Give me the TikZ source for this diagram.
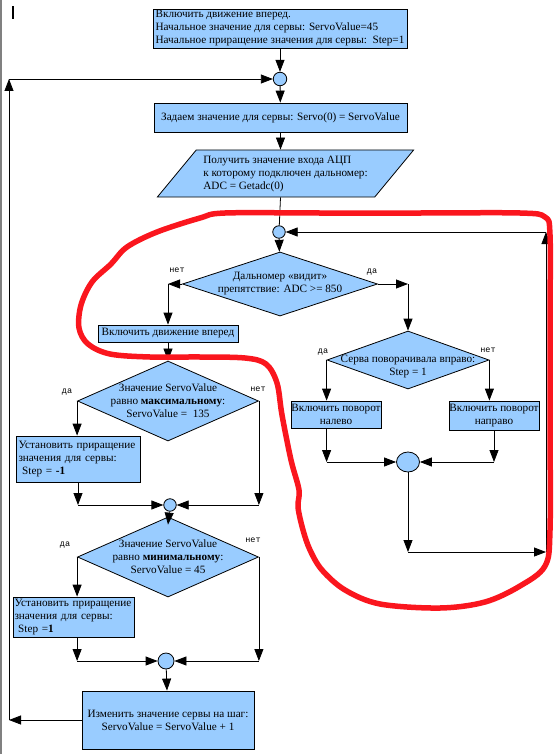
\documentclass[tikz,border=0pt]{standalone}
\usepackage{fontspec}
\setmainfont{Liberation Serif}
\newfontfamily\lblfont{Liberation Mono}
\usetikzlibrary{shapes.geometric,arrows.meta}

\definecolor{boxblue}{RGB}{153,204,255}
\definecolor{markred}{RGB}{250,22,30}

\tikzset{
  box/.style={draw, fill=boxblue, inner sep=3pt, align=center, font=\fontsize{11.2}{13}\selectfont},
  decision/.style={diamond, draw, fill=boxblue, inner sep=0pt},
  joint/.style={circle, draw, fill=boxblue, inner sep=0pt},
  txt/.style={align=center, inner sep=0pt, font=\fontsize{11.2}{13}\selectfont},
  lbl/.style={inner sep=0pt, font=\lblfont\fontsize{8.5}{9}\selectfont},
  arr/.style={-{Triangle[length=12pt,width=9pt]}},
}

\begin{document}
\begin{tikzpicture}[x=1pt,y=-1pt,line width=0.8pt]
\useasboundingbox (0,0) rectangle (554,754);
\draw[gray, line width=1.5pt] (1,0) -- (1,754);
\fill (12,6) rectangle (14,19);

% main column
\node[box, minimum width=254pt, minimum height=39pt, inner sep=0pt, align=left] (start) at (280,28.5)
  {Включить движение вперед.\\Начальное значение для сервы: ServoValue=45\\Начальное приращение значения для сервы:\ \ Step=1};
\node[joint, minimum size=13.5pt] (c1) at (280,79) {};
\node[box, minimum width=253pt, minimum height=29pt, inner sep=0pt] (setservo) at (280.5,117.5)
  {Задаем значение для сервы: Servo(0) = ServoValue};
\node[trapezium, trapezium stretches=true, trapezium left angle=45, trapezium right angle=135,
  draw, fill=boxblue, minimum width=257pt, minimum height=47pt, inner sep=0pt,
  align=left, font=\fontsize{11.2}{13}\selectfont] (getadc) at (285.5,173.5)
  {Получить значение входа АЦП\\к которому подключен дальномер:\\ADC = Getadc(0)};
\node[joint, minimum size=12.5pt] (c2) at (279,232) {};
\node[decision, minimum width=195pt, minimum height=64pt] (seen) at (280,284) {};
\node[txt] (seent) at (seen) {Дальномер «видит»\\препятствие: ADC >= 850};
\node[lbl] (seenno) at (177,270) {нет};
\node[lbl] (seenyes) at (372,272) {да};

% right loop
\node[decision, minimum width=162pt, minimum height=58pt] (dir) at (408,360) {};
\node[txt] (dirt) at (408,366) {Серва поворачивала вправо:\\Step = 1};
\node[lbl] (diryes) at (323,352) {да};
\node[lbl] (dirno) at (488,350) {нет};
\node[box, minimum width=90pt, minimum height=27pt, inner sep=0pt] (turnl) at (336,414.5) {Включить поворот\\налево};
\node[box, minimum width=90pt, minimum height=29pt, inner sep=0pt] (turnr) at (494,415.5) {Включить поворот\\направо};
\node[ellipse, draw, fill=boxblue, inner sep=0pt, minimum width=23pt, minimum height=20pt] (c3) at (408,462) {};
\coordinate (lpR1) at (408,552);
\coordinate (lpR2) at (546,552);
\coordinate (lpR3) at (546,232);

% left column
\node[box, minimum width=140pt, minimum height=17pt, inner sep=1pt] (fwd) at (168,333.5) {Включить движение вперед};
\node[decision, minimum width=181pt, minimum height=80pt] (max) at (168,401) {};
\node[txt] (maxt) at (max) {Значение ServoValue\\равно \textbf{максимальному}:\\ServoValue =\ \ 135};
\node[lbl] (maxyes) at (67,392) {да};
\node[lbl] (maxno) at (258,389) {нет};
\node[box, minimum width=124pt, minimum height=46pt, text width=119pt, inner sep=2pt, align=left] (stepdn) at (78,459)
  {Установить приращение\\значения для сервы:\\\ Step = \textbf{-1}};
\node[joint, minimum size=12.5pt] (c4) at (170,505) {};
\node[decision, minimum width=181pt, minimum height=80pt] (min) at (168,557) {};
\node[txt] (mint) at (min) {Значение ServoValue\\равно \textbf{минимальному}:\\ServoValue = 45};
\node[lbl] (minyes) at (65,545) {да};
\node[lbl] (minno) at (253,540) {нет};
\node[box, minimum width=121pt, minimum height=40pt, text width=118pt, inner sep=1.5pt, align=left] (stepup) at (73.5,617)
  {Установить приращение\\значения для сервы:\\\ Step =\textbf{1}};
\node[joint, minimum size=16pt] (c5) at (166,661) {};
\node[box, minimum width=172pt, minimum height=58pt] (change) at (168,720)
  {Изменить значение сервы на шаг:\\ServoValue = ServoValue + 1};
\coordinate (lpB) at (9,720);
\coordinate (lpT) at (9,79);

% connectors
\draw[arr] (start) -- (c1);
\draw[arr] (c1) -- (setservo);
\draw[arr] (setservo.south) -- (setservo.south |- getadc.north);
\draw (setservo.south |- getadc.south) -- (c2);
\draw[arr] (c2) -- (seen);
\draw[arr] (seen.west) -- (seen.west -| fwd.north);
\draw[arr] (seen.west -| fwd.north) -- (fwd.north);
\draw[arr] (seen.east) -- (seen.east -| dir.north);
\draw[arr] (seen.east -| dir.north) -- (dir.north);
\draw[arr] (dir.west) -- (dir.west |- turnl.north);
\draw[arr] (dir.east) -- (dir.east |- turnr.north);
\draw[arr] (dir.west |- turnl.south) -- (dir.west |- c3);
\draw[arr] (dir.west |- c3) -- (c3.west);
\draw[arr] (turnr.south) -- (turnr.south |- c3);
\draw[arr] (turnr.south |- c3) -- (c3.east);
\draw[arr] (c3.south) -- (lpR1);
\draw[arr] (lpR1) -- (lpR2);
\draw[arr] (lpR2) -- (lpR3);
\draw[arr] (lpR3) -- (c2.east);
\draw[arr] (fwd) -- (max);
\draw[arr] (max.west) -- (max.west |- stepdn.north);
\draw[arr] (stepdn.south) -- (stepdn.south |- c4);
\draw[arr] (stepdn.south |- c4) -- (c4.west);
\draw[arr] (max.east) -- (max.east |- c4);
\draw[arr] (max.east |- c4) -- (c4.east);
\draw[arr] (c4) -- ([yshift=-8pt]min.north);
\draw[arr] (min.west) -- (min.west |- stepup.north);
\draw[arr] (min.west |- stepup.south) -- (min.west |- c5);
\draw[arr] (min.west |- c5) -- (c5.west);
\draw[arr] (min.east) -- (min.east |- c5);
\draw[arr] (min.east |- c5) -- (c5.east);
\draw[arr] (c5) -- (change);
\draw[arr] (change.west) -- (lpB);
\draw[arr] (lpB) -- (lpT);
\draw[arr] (lpT) -- (c1.west);

% hand-drawn marking
\draw[markred, line width=5.5pt, line join=round] plot[smooth cycle, tension=0.55] coordinates {
  (225,213) (320,213) (420,213) (520,213) (545,217) (550,235) (550,320) (550,420) (550,530)
  (545,566) (520,586) (485,602) (440,608) (380,604) (345,590) (322,570) (310,550)
  (303,530) (298,507) (299,490) (291,460) (282,415) (277,383) (266,364) (245,358)
  (200,357) (150,357) (110,354) (88,344) (79,328) (81,305) (92,282) (111,264)
  (127,247) (157,232) (200,218)};
\end{tikzpicture}
\end{document}
